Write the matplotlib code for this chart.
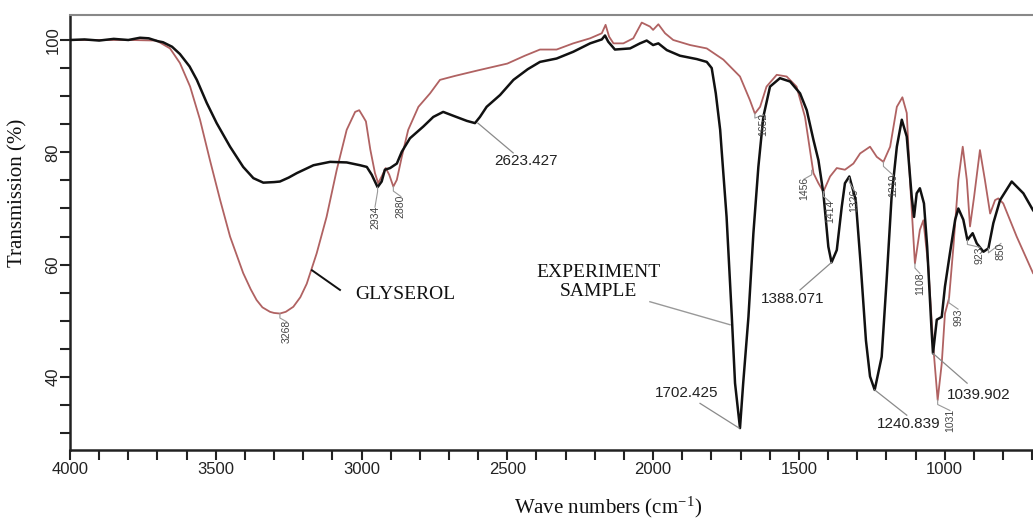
import matplotlib.pyplot as plt

plt.rcParams['mathtext.fontset'] = 'stix'

# experiment sample (black trace): wavenumber (cm-1), transmission (%)
sample_wn = [4000, 3950, 3900, 3850, 3800, 3760, 3730, 3700, 3681, 3650,
             3623, 3590, 3565, 3531, 3497, 3451, 3406, 3371, 3337, 3300,
             3280, 3250, 3222, 3165, 3108, 3051, 3005, 2982, 2965, 2945,
             2931, 2920, 2902, 2879, 2862, 2834, 2788, 2754, 2720, 2685,
             2639, 2611, 2594, 2571, 2525, 2479, 2430, 2388, 2331, 2274,
             2216, 2176, 2165, 2154, 2131, 2079, 2045, 2022, 2000, 1982,
             1953, 1908, 1850, 1816, 1799, 1785, 1770, 1765, 1748, 1730,
             1719, 1702, 1691, 1673, 1656, 1639, 1622, 1599, 1565, 1530,
             1496, 1473, 1450, 1433, 1416, 1399, 1388, 1370, 1353, 1342,
             1327, 1305, 1288, 1270, 1256, 1240, 1216, 1199, 1182, 1164,
             1147, 1130, 1113, 1105, 1096, 1085, 1071, 1060, 1045, 1040,
             1027, 1010, 999, 982, 964, 953, 936, 922, 904, 890,
             867, 850, 833, 810, 770, 730, 697]
sample_t = [100.0, 100.1, 99.9, 100.2, 100.0, 100.4, 100.3, 99.8, 99.6, 98.8,
            97.5, 95.3, 92.9, 88.8, 85.2, 81.0, 77.4, 75.4, 74.6, 74.7,
            74.8, 75.5, 76.3, 77.7, 78.3, 78.2, 77.7, 77.4, 76.0, 73.8,
            74.8, 76.9, 77.2, 78.0, 80.1, 82.5, 84.6, 86.3, 87.2, 86.5,
            85.6, 85.2, 86.3, 88.1, 90.2, 92.9, 94.8, 96.1, 96.7, 97.9,
            99.4, 100.1, 100.8, 99.7, 98.3, 98.5, 99.4, 99.9, 99.1, 99.4,
            98.2, 97.2, 96.6, 96.1, 95.0, 90.5, 84.0, 80.4, 68.5, 50.7,
            38.9, 30.9, 38.9, 50.7, 65.6, 77.4, 86.3, 91.7, 93.2, 92.6,
            90.5, 87.5, 82.2, 78.6, 72.7, 63.2, 60.4, 62.6, 70.3, 74.5,
            75.7, 71.5, 60.0, 46.5, 40.1, 37.7, 43.6, 57.3, 72.1, 81.0,
            85.8, 82.8, 72.1, 68.5, 72.7, 73.6, 70.9, 63.2, 48.4, 44.2,
            50.2, 50.7, 56.1, 62.0, 68.0, 70.0, 68.0, 64.4, 65.6, 63.8,
            62.3, 62.9, 67.4, 71.5, 74.8, 72.7, 69.7]

# glycerol (red trace)
glycerol_wn = [4000, 3900, 3794, 3703, 3657, 3623, 3588, 3554, 3520, 3485,
               3451, 3406, 3380, 3360, 3340, 3314, 3300, 3280, 3260, 3234,
               3210, 3188, 3154, 3120, 3085,
               3051, 3022, 3008, 2994, 2985, 2970, 2954, 2943, 2931, 2917,
               2905, 2891, 2879, 2862, 2840, 2805, 2765, 2731, 2680, 2600,
               2500, 2440, 2388, 2331, 2274, 2216, 2176, 2163, 2151, 2136,
               2102, 2068, 2039, 2011, 2000, 1982, 1959, 1931, 1873, 1816,
               1759, 1702, 1668, 1651, 1633, 1611, 1576, 1542, 1508, 1479,
               1462, 1450, 1433, 1416, 1393, 1370, 1342, 1313, 1290, 1256,
               1233, 1210, 1187, 1164, 1145, 1130, 1119, 1102, 1085, 1073,
               1056, 1039, 1024, 1010, 999, 985, 970, 953, 938, 924,
               913, 899, 879, 862, 844, 827, 816, 799, 753, 697]
glycerol_t = [100.0, 100.0, 100.0, 99.9, 98.5, 95.9, 91.7, 85.8, 78.6, 71.5,
              65.0, 58.5, 55.6, 53.7, 52.4, 51.6, 51.4, 51.3, 51.6, 52.5,
              54.2, 56.6, 62.0, 68.5, 76.9,
              84.0, 87.2, 87.5, 86.3, 85.5, 80.5, 76.3, 74.5, 75.7, 77.2,
              76.0, 73.9, 75.1, 79.2, 84.0, 88.1, 90.5, 92.9, 93.6, 94.6,
              95.8, 97.2, 98.3, 98.3, 99.4, 100.3, 101.2, 102.7, 100.6, 99.4,
              99.4, 100.3, 103.1, 102.4, 101.8, 102.8, 101.2, 100.0, 99.1, 98.5,
              96.5, 93.5, 89.3, 86.9, 88.1, 91.7, 93.8, 93.5, 91.7, 86.3,
              80.4, 76.3, 74.5, 73.0, 75.7, 77.2, 76.9, 78.0, 79.8, 81.0,
              79.2, 78.3, 81.0, 88.1, 89.8, 87.0, 75.1, 60.2, 66.2, 67.9,
              59.6, 45.4, 35.9, 42.4, 51.3, 54.0, 63.2, 75.1, 81.0, 75.1,
              66.8, 72.1, 80.4, 75.1, 69.1, 71.5, 71.8, 70.9, 65.0, 58.5]

x_ticks = [4000, 3500, 3000, 2500, 2000, 1500, 1000]
y_ticks = [40, 60, 80, 100]

# small rotated peak marks: label, text centre, peak point
peak_labels = ["3268", "2934", "2880", "1652", "1456", "1414", "1326",
               "1210", "1108", "993", "923", "850", "1031"]
peak_text_wn = [3257, 2954, 2865, 1621, 1482, 1393, 1311, 1177, 1085, 954, 879, 807, 982]
peak_text_t = [48.1, 68.5, 70.4, 84.9, 73.5, 69.4, 71.5, 74.2, 56.7, 50.7, 61.7, 62.4, 32.3]
peak_wn = [3280, 2945, 2891, 1651, 1456, 1416, 1327, 1210, 1102, 985, 922, 850, 1024]
peak_t = [51.3, 73.8, 73.9, 86.9, 76.8, 73.0, 75.5, 78.3, 60.2, 54.0, 64.4, 62.9, 35.9]

# numbered callouts on the sample trace
call_labels = ["2623.427", "1702.425", "1388.071", "1240.839", "1039.902"]
call_text_wn = [2436, 1885, 1522, 1122, 882]
call_text_t = [78.5, 37.2, 53.9, 31.6, 36.8]
call_wn = [2601, 1705, 1388, 1240, 1040]
call_t = [85.2, 30.9, 60.4, 37.7, 44.2]
call_end_wn = [2480, 1839, 1496, 1130, 923]
call_end_t = [79.9, 35.3, 55.5, 33.2, 38.9]

fig = plt.figure(figsize=(10.33, 5.19), dpi=100)
ax = fig.add_axes([70 / 1033, 69 / 519, 963 / 1033, 435 / 519])

ax.plot(glycerol_wn, glycerol_t, color='#b06262', lw=1.3, zorder=2)
ax.plot(sample_wn, sample_t, color='#111111', lw=1.8, zorder=3)

ax.set_xlim(4000, 697)
ax.set_ylim(27, 104.45)

ax.set_xticks(x_ticks)
ax.set_xticks(range(3900, 600, -100), minor=True)
ax.set_yticks(y_ticks)
ax.set_yticks(range(30, 105, 5), minor=True)
ax.tick_params(which='both', direction='out', length=7, width=1.5, color='#222222')
ax.tick_params(axis='x', labelsize=12, pad=2)
ax.tick_params(axis='y', labelsize=12, pad=0, labelrotation=90)
for lab in ax.get_xticklabels() + ax.get_yticklabels():
    lab.set_family('Liberation Sans')
    lab.set_color('#222222')
for lab in ax.get_yticklabels():
    lab.set_va('center')

ax.spines['right'].set_visible(False)
ax.spines['top'].set_color('#888888')
ax.spines['top'].set_linewidth(1.5)
ax.spines['left'].set_linewidth(1.8)
ax.spines['bottom'].set_linewidth(1.8)
ax.spines['left'].set_color('#222222')
ax.spines['bottom'].set_color('#222222')

# small peak labels
for lab, tx, ty, px, py in zip(peak_labels, peak_text_wn, peak_text_t, peak_wn, peak_t):
    half = 0.36 * len(lab)
    ax.plot([px, px, tx], [py, py - 0.8, ty + half + 0.3], color='#999999', lw=0.8, zorder=4)
    ax.text(tx, ty, lab, rotation=90, ha='center', va='center', fontsize=7.5,
            family=['Liberation Sans Narrow', 'Liberation Sans'], color='#444444', zorder=5)

# numbered callouts
for lab, tx, ty, px, py, ex, ey in zip(call_labels, call_text_wn, call_text_t,
                                       call_wn, call_t, call_end_wn, call_end_t):
    ax.plot([px, ex], [py, ey], color='#8a8a8a', lw=0.9, zorder=4)
    ax.text(tx, ty, lab, ha='center', va='center', fontsize=11,
            family='Liberation Sans', color='#222222', zorder=5)

# trace names
ax.plot([3170, 3074], [59.0, 55.5], color='#111111', lw=1.4)
ax.text(2851, 54.6, 'GLYSEROL', ha='center', va='center', fontsize=14,
        family='Liberation Serif', color='#111111')
ax.plot([2011, 1736], [53.4, 49.3], color='#999999', lw=1.0)
ax.text(2186, 56.9, 'EXPERIMENT\nSAMPLE', ha='center', va='center', fontsize=14,
        family='Liberation Serif', color='#111111', linespacing=1.1)

fig.text(18 / 1033, 1 - 193 / 519, 'Transmission (%)', rotation=90, ha='center', va='center',
         fontsize=15, family='Liberation Serif', color='#111111')
fig.text(608 / 1033, 1 - 507 / 519, r'Wave numbers (cm$^{\mathregular{-1}}$)', ha='center', va='center',
         fontsize=15, family='Liberation Serif', color='#111111')

fig.savefig('out.png', dpi=100)
